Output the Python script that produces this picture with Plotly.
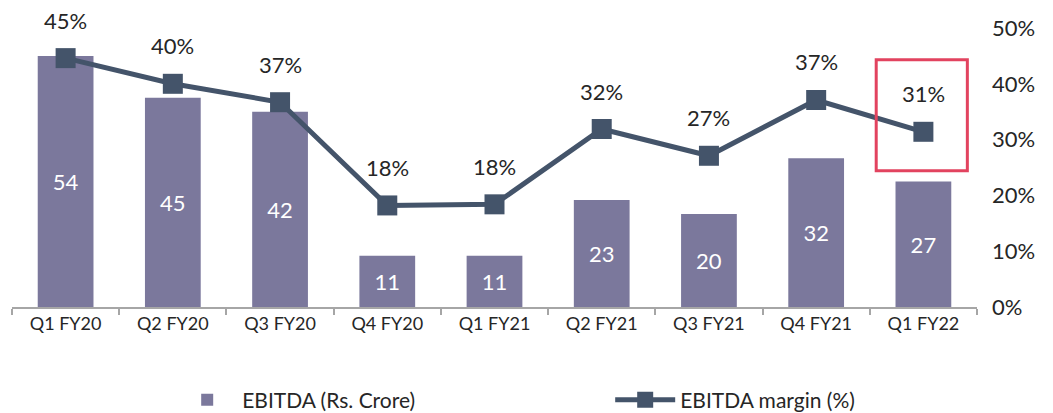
import plotly.graph_objects as go

categories = ["Q1 FY20", "Q2 FY20", "Q3 FY20", "Q4 FY20", "Q1 FY21",
              "Q2 FY21", "Q3 FY21", "Q4 FY21", "Q1 FY22"]
ebitda = [54, 45, 42, 11, 11, 23, 20, 32, 27]
margin = [0.446, 0.400, 0.367, 0.182, 0.184, 0.319, 0.271, 0.371, 0.314]
right_ticks = [0, 0.1, 0.2, 0.3, 0.4, 0.5]

FONT = "Lato, 'Open Sans', sans-serif"
BAR_COLOR = "#7B789C"
LINE_COLOR = "#44546A"
TXT = "#262626"

fig = go.Figure()
fig.add_trace(go.Bar(
    x=categories, y=ebitda, name="EBITDA (Rs. Crore)",
    marker=dict(color=BAR_COLOR, line=dict(width=0)),
    width=0.52,
    text=[str(v) for v in ebitda], textposition="inside",
    insidetextanchor="middle",
    textfont=dict(color="white", size=22, family=FONT),
    yaxis="y",
))
fig.add_trace(go.Scatter(
    x=categories, y=margin, name="EBITDA margin (%)", mode="lines+markers",
    line=dict(color=LINE_COLOR, width=5),
    marker=dict(symbol="square", size=20, color=LINE_COLOR),
    yaxis="y2",
))

for c, m in zip(categories, margin):
    fig.add_annotation(x=c, y=m, yref="y2", text=f"{round(m*100)}%",
                       showarrow=False, yshift=38,
                       font=dict(size=22, color=TXT, family=FONT))

# highlight box around the latest quarter
fig.add_shape(type="rect", xref="x", yref="y2",
              x0=7.56, x1=8.41, y0=0.244, y1=0.443,
              line=dict(color="#E2435F", width=3), fillcolor="rgba(0,0,0,0)")

fig.update_layout(
    width=1045, height=405,
    margin=dict(l=4, r=76, t=20, b=106, autoexpand=False),
    paper_bgcolor="white", plot_bgcolor="white",
    font=dict(family=FONT, color=TXT),
    showlegend=True,
    legend=dict(orientation="h", x=0.166, xanchor="left",
                yref="container", y=0.032, yanchor="middle",
                font=dict(size=21, color=TXT), itemwidth=60,
                entrywidth=363, entrywidthmode="pixels"),
    xaxis=dict(type="category", range=[-0.5, 8.5], showline=True,
               linecolor="#A6A6A6", linewidth=1.5, ticks="outside",
               tickson="boundaries", ticklen=6, tickcolor="#A6A6A6",
               tickwidth=1.5, showgrid=False, automargin=False,
               tickfont=dict(size=18, color=TXT)),
    yaxis=dict(range=[0, 60], visible=False, showgrid=False),
    yaxis2=dict(range=[0, 0.5], overlaying="y", side="right",
                tickvals=right_ticks, tickformat=".0%", showgrid=False,
                showline=False, zeroline=False, ticklabelstandoff=14,
                automargin=False,
                tickfont=dict(size=22, color=TXT)),
)

fig.write_html("out.html")
